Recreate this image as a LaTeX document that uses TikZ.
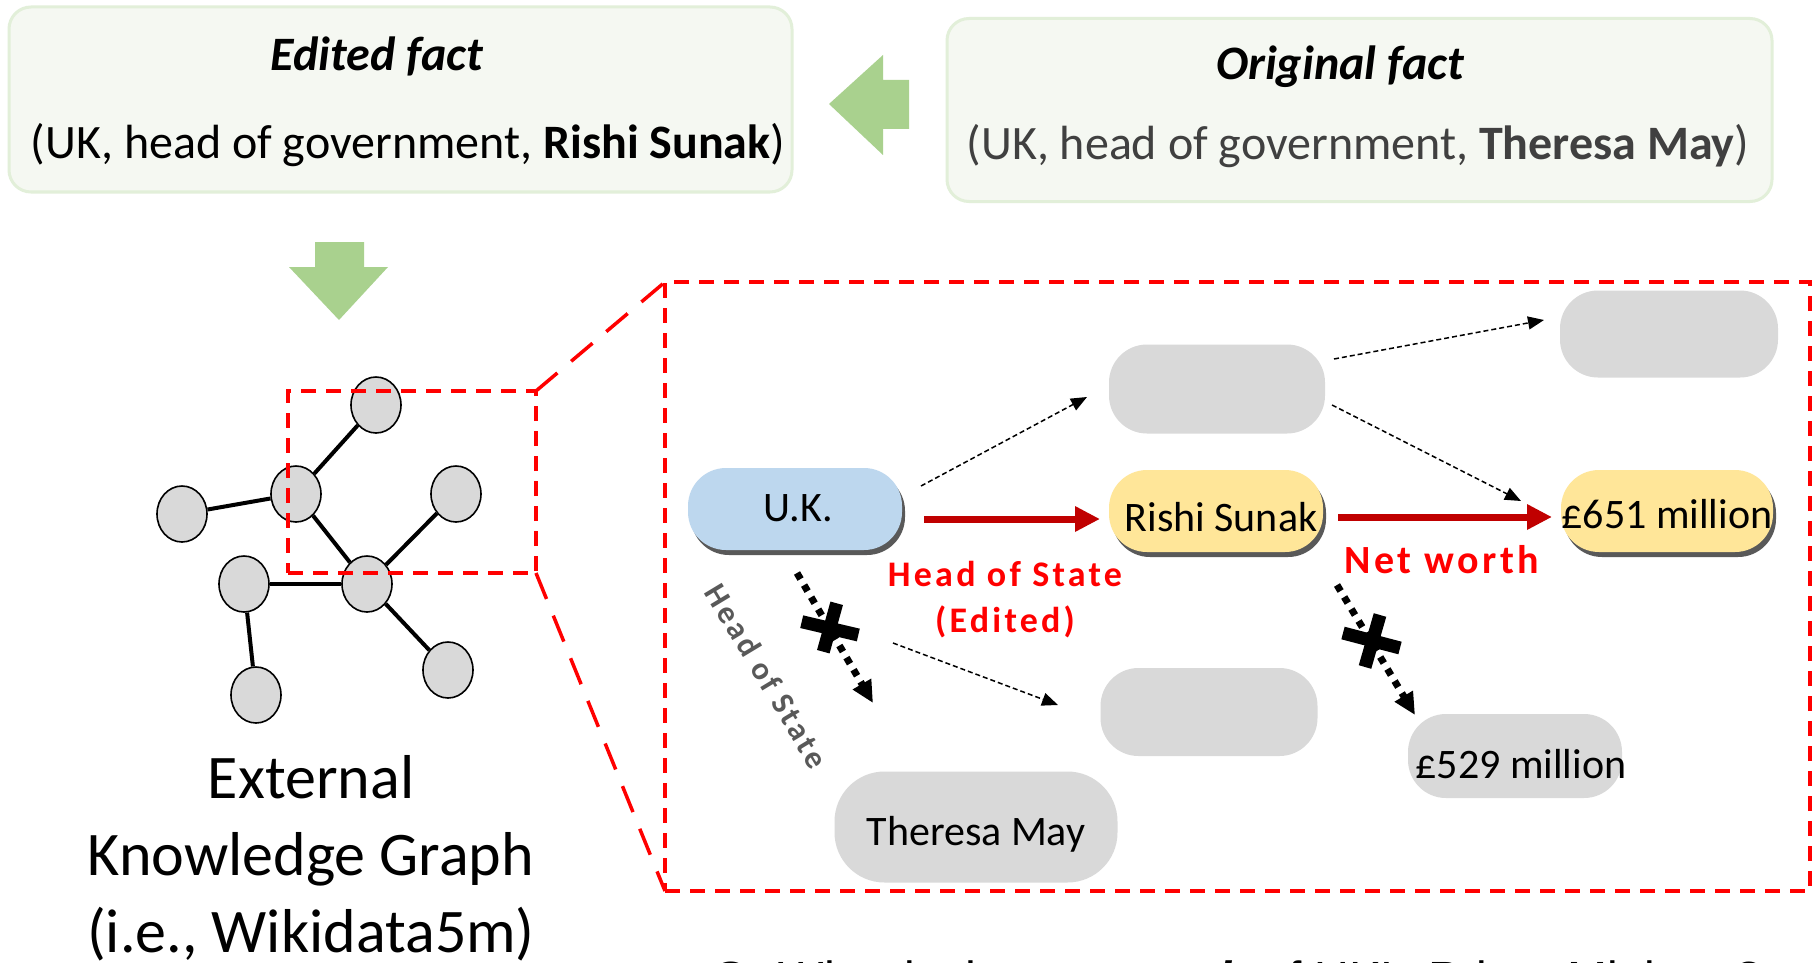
\documentclass[tikz,border=0pt]{standalone}
\usepackage{fontspec}
\setmainfont{Carlito}
\newfontfamily\lblfont[LetterSpace=9]{Carlito}
\newfontfamily\qfont{Liberation Sans}
\usetikzlibrary{arrows.meta,shapes.geometric,shadows}
\definecolor{boxfill}{HTML}{F5F8F2}
\definecolor{boxline}{HTML}{E2EFD9}
\definecolor{arrgreen}{HTML}{A9D18E}
\definecolor{ukblue}{HTML}{BDD7EE}
\definecolor{ansyellow}{HTML}{FFE699}
\definecolor{nodegray}{HTML}{D9D9D9}
\definecolor{shadowgray}{HTML}{595959}
\definecolor{darkred}{HTML}{C00000}
\definecolor{labelred}{HTML}{FF0000}
\definecolor{textgray}{HTML}{595959}
\definecolor{origgray}{HTML}{404040}
\begin{document}
\begin{tikzpicture}[x=1pt,y=-1pt,
  factbox/.style={draw=boxline, line width=3pt, fill=boxfill, rounded corners=22pt, inner sep=0pt, outer sep=0pt},
  facttext/.style={anchor=base, inner sep=0pt, font=\fontsize{48}{58}\selectfont},
  kgnode/.style={ellipse, draw=black, line width=1.6pt, fill=nodegray, minimum width=50pt, minimum height=56pt, inner sep=0pt},
  kgedge/.style={line width=4pt},
  kgtext/.style={anchor=base, inner sep=0pt, font=\fontsize{62}{77}\selectfont},
  ent/.style={rectangle, rounded corners=38pt, inner sep=0pt, outer sep=0pt, fill=nodegray},
  entshadow/.style={drop shadow={shadow xshift=3pt, shadow yshift=-5pt, fill=shadowgray, opacity=1}},
  enttext/.style={inner sep=0pt, font=\fontsize{42}{50}\selectfont},
  zoombox/.style={draw=labelred, line width=3.5pt, dash pattern=on 15pt off 10pt, inner sep=0pt, outer sep=0pt},
  zoomline/.style={draw=labelred, line width=3.5pt, dash pattern=on 28pt off 18pt},
  redarrow/.style={draw=darkred, line width=7pt, -{Triangle[length=25pt,width=24pt]}},
  thinarrow/.style={draw=black, line width=1.5pt, dash pattern=on 5pt off 3pt, -{Triangle[length=16pt,width=13pt]}},
  dotarrow/.style={draw=black, line width=7pt, dash pattern=on 7pt off 7pt, -{Triangle[length=22pt,width=20pt]}},
  crossbar/.style={draw=black, line width=13pt},
  redlabel/.style={anchor=base, inner sep=0pt, text=labelred, font=\lblfont\bfseries\fontsize{36}{42}\selectfont},
]
\useasboundingbox[fill=white] (0,0) rectangle (1816,963);

% top fact boxes
\node[factbox, minimum width=783pt, minimum height=185pt] (editedbox) at (400.5,99.5) {};
\node[facttext, font=\fontsize{48}{58}\selectfont\bfseries\itshape] (edtitle) at (377,71) {Edited fact};
\node[facttext] (edtext) at (408,159) {(UK, head of government, \textbf{Rishi Sunak})};

\node[factbox, minimum width=825pt, minimum height=183pt] (origbox) at (1359.5,110) {};
\node[facttext, font=\fontsize{48}{58}\selectfont\bfseries\itshape] (ortitle) at (1340,80) {Original fact};
\node[facttext, text=origgray] (ortext) at (1358,160) {(UK, head of government, \textbf{Theresa May})};

% green arrows
\fill[arrgreen] (829,104) -- (883,55) -- (883,80) -- (909,80) -- (909,129) -- (883,129) -- (883,155) -- cycle;
\fill[arrgreen] (315,242) -- (364,242) -- (364,267) -- (388,267) -- (339,320) -- (289,267) -- (315,267) -- cycle;

% knowledge graph
\node[kgnode] (n1) at (376,405) {};
\node[kgnode] (n2) at (296,494) {};
\node[kgnode] (n3) at (182,514) {};
\node[kgnode] (n4) at (456,494) {};
\node[kgnode] (n5) at (367,584) {};
\node[kgnode] (n6) at (244,584) {};
\node[kgnode] (n7) at (256,695) {};
\node[kgnode] (n8) at (448,670) {};
\draw[kgedge] (n2) -- (n1);
\draw[kgedge] (n2) -- (n3);
\draw[kgedge] (n2) -- (n5);
\draw[kgedge] (n5) -- (n4);
\draw[kgedge] (n5) -- (n6);
\draw[kgedge] (n6) -- (n7);
\draw[kgedge] (n5) -- (n8);

\node[kgtext] (kg1) at (311,798) {External};
\node[kgtext] (kg2) at (311,875) {Knowledge Graph};
\node[kgtext] (kg3) at (311,952) {(i.e., Wikidata5m)};

% zoom boxes
\node[zoombox, minimum width=248pt, minimum height=182pt] (smallzoom) at (412,482) {};
\node[zoombox, minimum width=1145pt, minimum height=609pt] (bigzoom) at (1237.5,586.5) {};
\draw[zoomline] (smallzoom.north east) -- (bigzoom.north west);
\draw[zoomline] (smallzoom.south east) -- (bigzoom.south west);

% entity nodes
\node[ent, fill=ukblue, entshadow, minimum width=214pt, minimum height=82pt] (uk) at (795,509) {};
\node[enttext] (uktext) at (798,508) {U.K.};
\node[ent, fill=ansyellow, entshadow, minimum width=214pt, minimum height=82pt] (rishi) at (1216,511) {};
\node[enttext] (rishitext) at (1221,517) {Rishi Sunak};
\node[ent, fill=ansyellow, entshadow, minimum width=212pt, minimum height=82pt] (m651) at (1667,511) {};
\node[enttext] (m651text) at (1667,514) {£651 million};
\node[ent, minimum width=216pt, minimum height=89pt] (g1) at (1217,389) {};
\node[ent, minimum width=218pt, minimum height=87pt] (g2) at (1669,334) {};
\node[ent, minimum width=217pt, minimum height=88pt] (g3) at (1209,712) {};
\node[ent, rounded corners=50pt, minimum width=283pt, minimum height=111pt] (theresa) at (976,827) {};
\node[enttext] (theresatext) at (976,834) {Theresa May};
\node[ent, minimum width=214pt, minimum height=84pt] (m529) at (1515,756) {};
\node[enttext] (m529text) at (1521,764) {£529 million};

% connectors
\draw[redarrow] ([shift={(22,10)}]uk.east) -- ([shift={(-9,8)}]rishi.west);
\draw[redarrow] ([shift={(15,6)}]rishi.east) -- ([shift={(-9,6)}]m651.west);
\draw[thinarrow] ([shift={(19,-23)}]uk.east) -- ([shift={(-22,8)}]g1.west);
\draw[thinarrow] ([shift={(9,-30)}]g1.east) -- ([shift={(-16,-14)}]g2.west);
\draw[thinarrow] ([shift={(7,16)}]g1.east) -- ([shift={(-40,-10)}]m651.west);
\draw[thinarrow] ([shift={(-9,93)}]uk.south east) -- ([shift={(-42.5,-7)}]g3.west);
\draw[dotarrow] ([shift={(2,23)}]uk.south) -- ([shift={(-103,-68.5)}]theresa.north);
\draw[dotarrow] ([shift={(14,33)}]rishi.south east) -- ([shift={(7,1)}]m529.north west);

% crosses
\draw[crossbar] (836.7,603.3) -- (823.3,651.7);
\draw[crossbar] (801.7,621.7) -- (858.3,635);
\draw[crossbar] (1380,615) -- (1365,667);
\draw[crossbar] (1343,633) -- (1400,648);

% labels
\node[redlabel] (hoslabel) at (1005,586) {Head of State};
\node[redlabel] (editedlabel) at (1005,632) {(Edited)};
\node[redlabel, font=\lblfont\bfseries\fontsize{40}{46}\selectfont] (nwlabel) at (1442,573) {Net worth};
\node[inner sep=0pt, rotate=-58.9, text=textgray, font=\lblfont\bfseries\fontsize{32}{38}\selectfont] (oldhos) at (767,676) {Head of State};

% question (cut off at the bottom)
\node[anchor=base west, inner sep=0pt, font=\qfont\fontsize{48}{58}\selectfont] (question) at (712,995) {\textbf{Q:} What is the \textbf{\textit{net worth}} of UK’s Prime Minister?};
\end{tikzpicture}
\end{document}
